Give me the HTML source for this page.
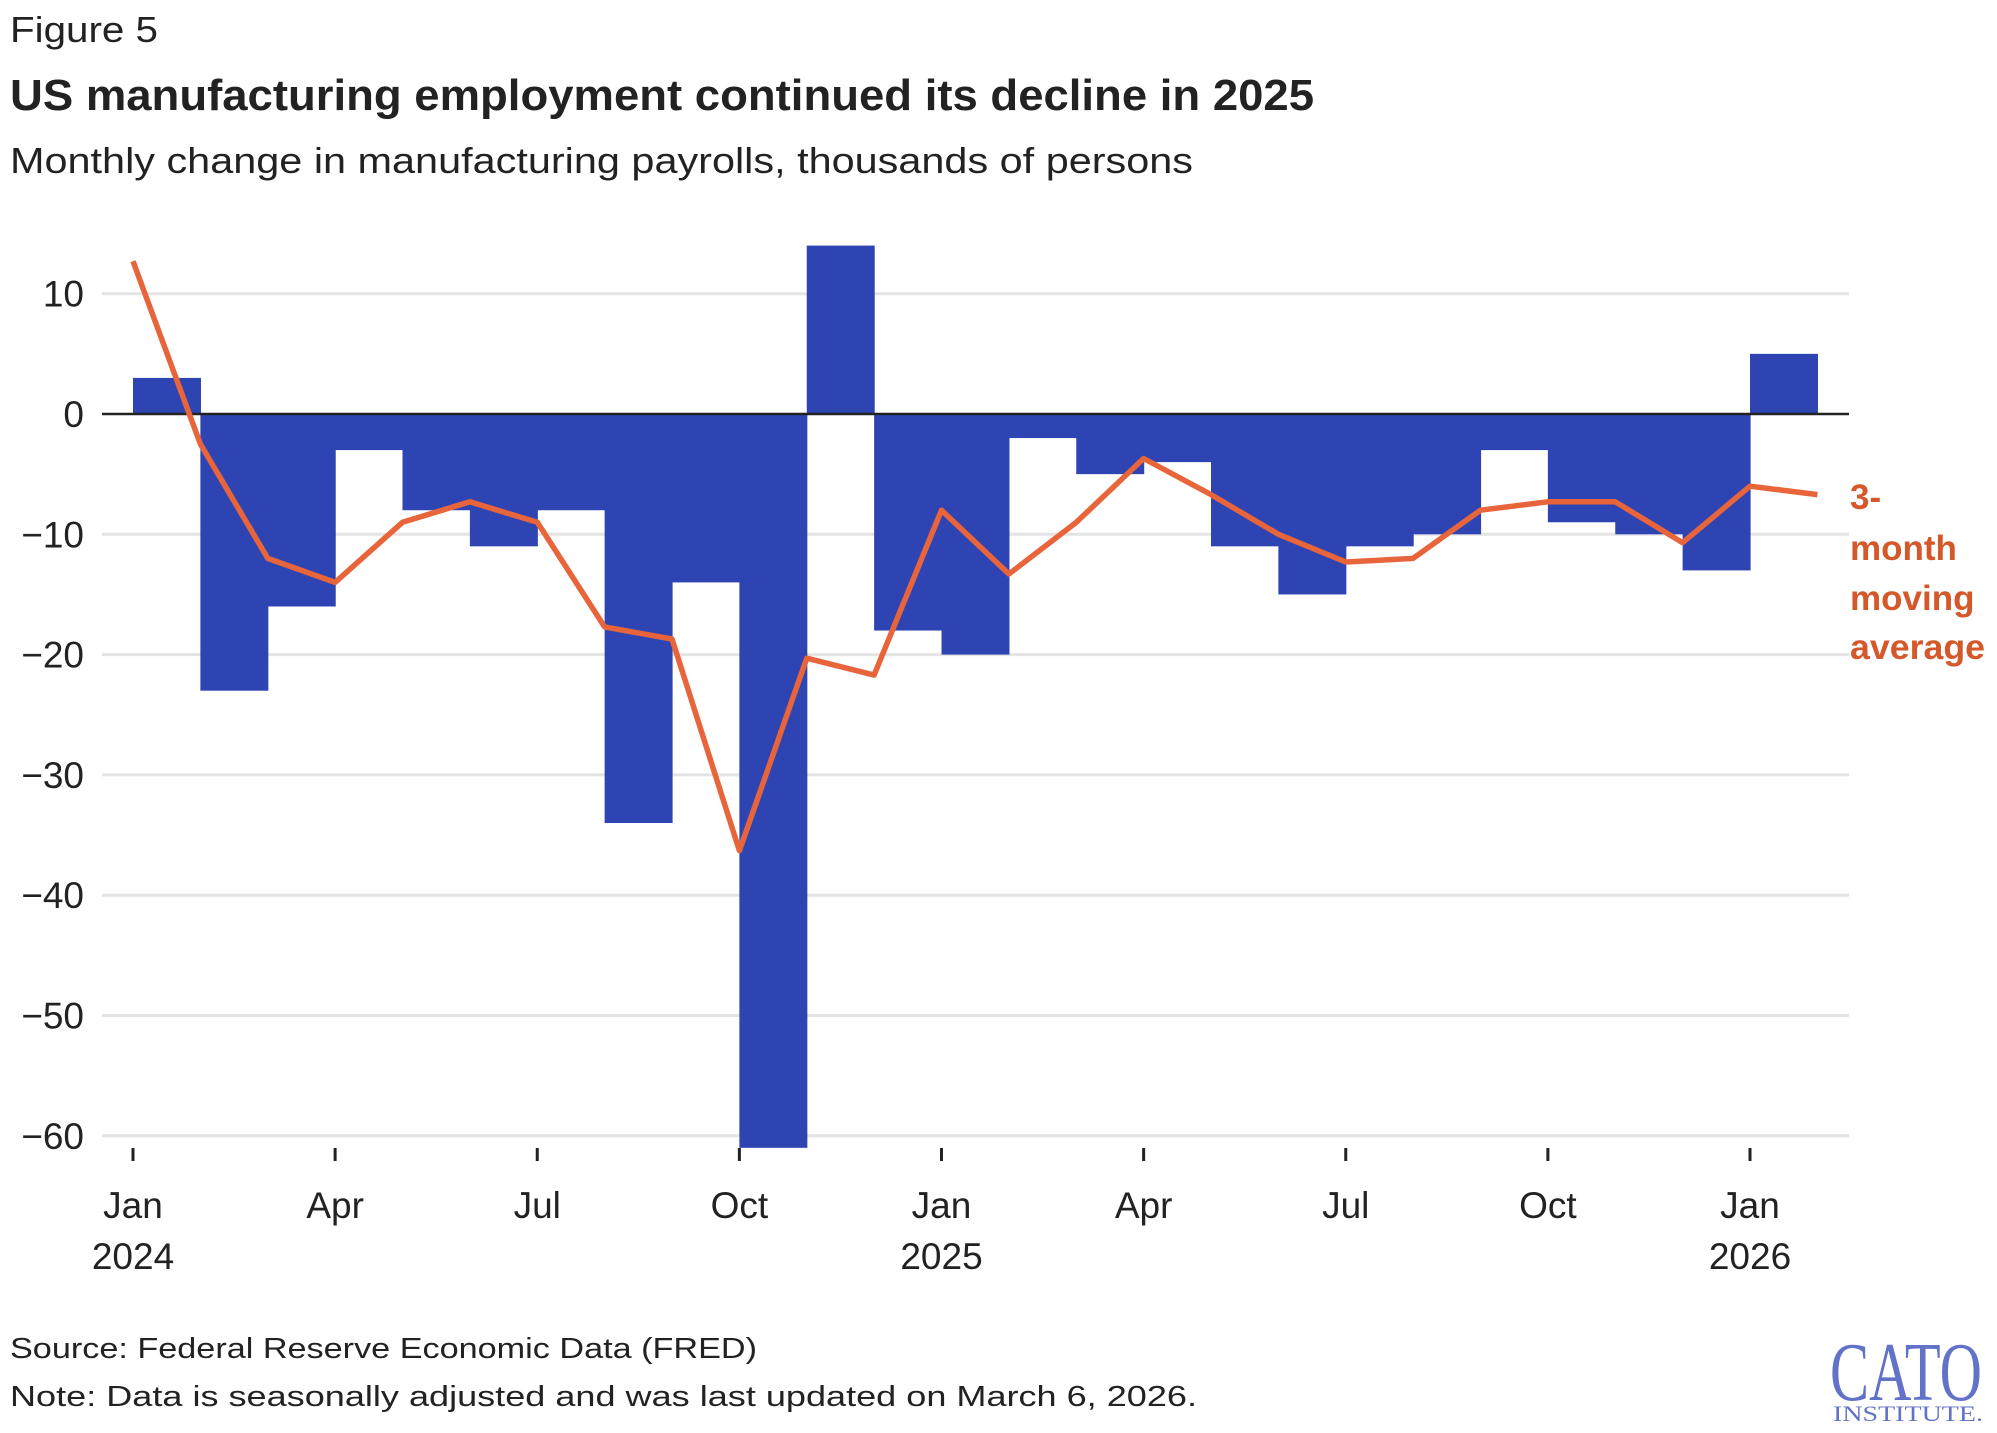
<!DOCTYPE html>
<html><head><meta charset="utf-8">
<style>
html,body{margin:0;padding:0;background:#fff;}
svg{display:block;font-family:"Liberation Sans",sans-serif;}
</style></head>
<body>
<svg id="chart" width="1997" height="1433" viewBox="0 0 1997 1433" xmlns="http://www.w3.org/2000/svg">
<text x="10" y="42" font-size="36" fill="#222" textLength="148" lengthAdjust="spacingAndGlyphs">Figure 5</text>
<text x="10" y="110" font-size="44" font-weight="bold" fill="#222" textLength="1304" lengthAdjust="spacingAndGlyphs">US manufacturing employment continued its decline in 2025</text>
<text x="10" y="173" font-size="36" fill="#222" textLength="1183" lengthAdjust="spacingAndGlyphs">Monthly change in manufacturing payrolls, thousands of persons</text>
<g id="grid"></g>
<g id="bars"></g>
<g id="zero"></g>
<g id="line"></g>
<g id="yaxis"></g>
<g id="xaxis"></g>
<text font-size="35" font-weight="bold" fill="#d4582a">
<tspan x="1850" y="509">3-</tspan><tspan x="1850" y="560">month</tspan><tspan x="1850" y="610">moving</tspan><tspan x="1850" y="659" textLength="135" lengthAdjust="spacingAndGlyphs">average</tspan></text>
<text x="10" y="1358" font-size="29" fill="#222" textLength="747" lengthAdjust="spacingAndGlyphs">Source: Federal Reserve Economic Data (FRED)</text>
<text x="10" y="1406" font-size="29" fill="#222" textLength="1187" lengthAdjust="spacingAndGlyphs">Note: Data is seasonally adjusted and was last updated on March 6, 2026.</text>
<g font-family="Liberation Serif, serif" fill="#6272c8">
<text x="1830" y="1400" font-size="84" textLength="152" lengthAdjust="spacingAndGlyphs">CATO</text>
<text x="1833" y="1421" font-size="22" textLength="150" lengthAdjust="spacingAndGlyphs">INSTITUTE.</text>
</g>
</svg>
<script>
const barValues = [3,-23,-16,-3,-8,-11,-8,-34,-14,-61,14,-18,-20,-2,-5,-4,-11,-15,-11,-10,-3,-9,-10,-13,5];
const avgValues = [12.7,-2.5,-12,-14,-9,-7.3,-9,-17.7,-18.7,-36.3,-20.3,-21.7,-8,-13.3,-9,-3.7,-6.7,-10,-12.3,-12,-8,-7.3,-7.3,-10.7,-6,-6.7];
const yTicks = [10,0,-10,-20,-30,-40,-50,-60];
const yTickLabels = ["10","0","\u221210","\u221220","\u221230","\u221240","\u221250","\u221260"];
const xTickMonths = [0,3,6,9,12,15,18,21,24];
const xTickLabels = ["Jan","Apr","Jul","Oct","Jan","Apr","Jul","Oct","Jan"];
const xYearLabels = ["2024","","","","2025","","","","2026"];

const NS="http://www.w3.org/2000/svg";
const x0=133, mw=(1750-133)/24, zeroY=414, pu=12.03, gridL=102, gridR=1849;
function xs(m){return x0+m*mw;}
function ys(v){return zeroY-v*pu;}
function mk(tag,attrs,parent){const e=document.createElementNS(NS,tag);for(const k in attrs)e.setAttribute(k,attrs[k]);document.getElementById(parent).appendChild(e);return e;}

yTicks.forEach((t,i)=>{
  if(t!==0){const g=mk('line',{x1:gridL,x2:gridR,y1:ys(t),y2:ys(t),stroke:'#e4e4e4','stroke-width':3},'grid');
  
  }
  const l=mk('text',{x:84,y:ys(t)+13,'text-anchor':'end','font-size':37,fill:'#222'},'yaxis');
  l.textContent=yTickLabels[i];
  
  
});
barValues.forEach((v,i)=>{
  const r=mk('rect',{x:xs(i),width:mw+0.6,y:Math.min(ys(v),zeroY),height:Math.abs(ys(v)-zeroY),fill:'#2f44b3'},'bars');
  
  
});
const z=mk('line',{x1:gridL,x2:gridR,y1:zeroY,y2:zeroY,stroke:'#222','stroke-width':2.5},'zero');


const pts=avgValues.map((v,i)=>xs(i).toFixed(1)+','+ys(v).toFixed(1)).join(' ');
const pl=mk('polyline',{points:pts,fill:'none',stroke:'#e8643a','stroke-width':5.5,'stroke-linejoin':'round'},'line');


xTickMonths.forEach((m,i)=>{
  const t=mk('line',{x1:xs(m),x2:xs(m),y1:1148,y2:1161,stroke:'#222','stroke-width':3},'xaxis');
  
  
  const l=mk('text',{x:xs(m),y:1218,'text-anchor':'middle','font-size':37,fill:'#222'},'xaxis');
  l.textContent=xTickLabels[i];
  
  
  if(xYearLabels[i]){const y=mk('text',{x:xs(m),y:1269,'text-anchor':'middle','font-size':37,fill:'#222'},'xaxis');
  y.textContent=xYearLabels[i];
  
  }
});
</script>
</body></html>
